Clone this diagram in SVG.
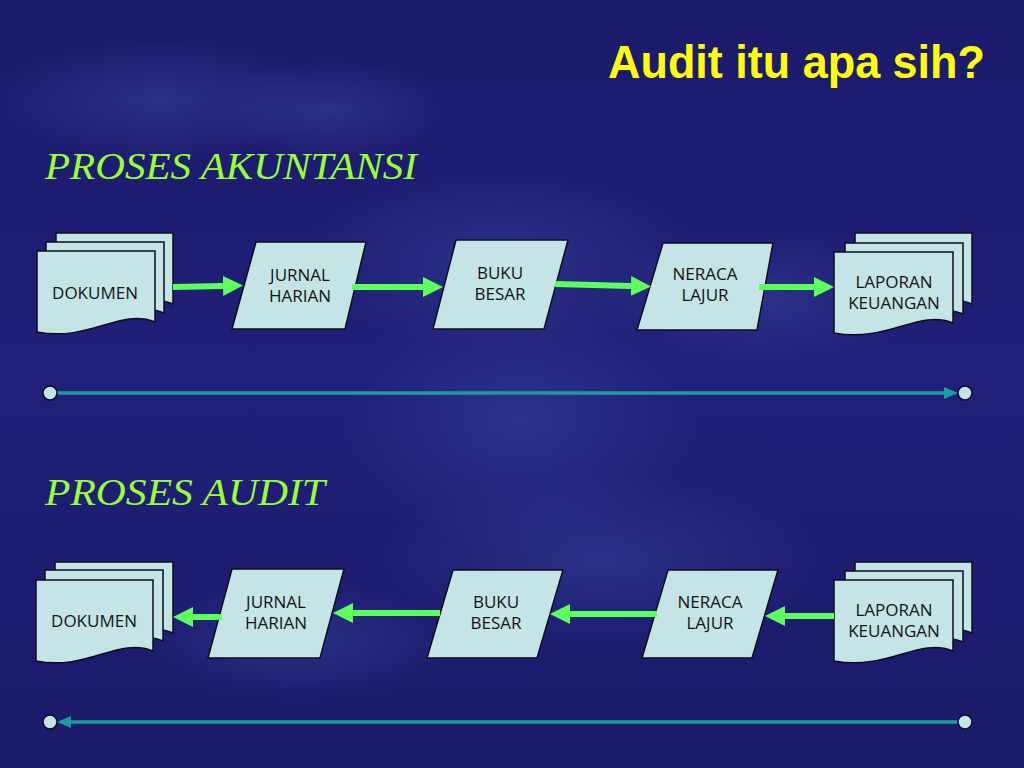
<svg xmlns="http://www.w3.org/2000/svg" width="1024" height="768" viewBox="0 0 1024 768">
  <defs>
    <radialGradient id="blob" cx="50%" cy="50%" r="50%">
      <stop offset="0" stop-color="#3a4aa0" stop-opacity="0.45"/>
      <stop offset="1" stop-color="#3a4aa0" stop-opacity="0"/>
    </radialGradient>
    <linearGradient id="bg" x1="0" y1="0" x2="0" y2="1">
      <stop offset="0" stop-color="#1c1a6c"/>
      <stop offset="0.5" stop-color="#211f78"/>
      <stop offset="1" stop-color="#1b1a6a"/>
    </linearGradient>
    <marker id="ga" markerUnits="userSpaceOnUse" markerWidth="20" markerHeight="20" refX="0" refY="10" orient="auto">
      <path d="M0,0 L20,10 L0,20 Z" fill="#5cff5c"/>
    </marker>
    <marker id="ta" markerUnits="userSpaceOnUse" markerWidth="14" markerHeight="12" refX="0" refY="6" orient="auto">
      <path d="M0,0 L14,6 L0,12 Z" fill="#1a9e9e"/>
    </marker>
    <style>
      .sheet { fill: #c4e4e6; stroke: #0d0d1e; stroke-width: 1.5; }
      .para { fill: #c4e4e6; stroke: #0d0d1e; stroke-width: 1.5; }
      .lbl { font-family: "Open Sans", "Liberation Sans", sans-serif; font-size: 17px; fill: #141414; text-anchor: middle; }
      .sec { font-family: "Liberation Serif", "DejaVu Serif", serif; font-style: italic; font-size: 38px; fill: #99ff33; }
      .garrow { stroke: #5cff5c; stroke-width: 6; fill: none; marker-end: url(#ga); }
      .tline { stroke: #1a9e9e; stroke-width: 3.5; fill: none; marker-end: url(#ta); }
      .dot { fill: #c4e4e6; stroke: #0a0a30; stroke-width: 1.5; }
    </style>
  </defs>

  <rect x="0" y="0" width="1024" height="768" fill="url(#bg)"/>
  <g id="texture">
    <ellipse cx="160" cy="100" rx="170" ry="60" fill="url(#blob)"/>
    <ellipse cx="330" cy="110" rx="120" ry="50" fill="url(#blob)"/>
    <ellipse cx="500" cy="260" rx="200" ry="90" fill="url(#blob)"/>
    <ellipse cx="520" cy="420" rx="180" ry="130" fill="url(#blob)"/>
    <ellipse cx="600" cy="560" rx="220" ry="90" fill="url(#blob)"/>
    <ellipse cx="760" cy="300" rx="160" ry="70" fill="url(#blob)"/>
    <ellipse cx="300" cy="640" rx="160" ry="60" fill="url(#blob)"/>
  </g>

  <text id="title" x="985" y="78" font-family="Liberation Sans, Arial, sans-serif" font-weight="bold" font-size="46" fill="#ffff00" text-anchor="end" textLength="377" lengthAdjust="spacingAndGlyphs">Audit itu apa sih?</text>
  <text id="sec1" class="sec" x="45" y="179" textLength="372" lengthAdjust="spacingAndGlyphs">PROSES AKUNTANSI</text>
  <text id="sec2" class="sec" x="45" y="505" textLength="280" lengthAdjust="spacingAndGlyphs">PROSES AUDIT</text>

  <!-- Top row -->
  <g id="dok1">
    <path class="sheet" d="M56,233 H173 V304 C138,290 108,324 56,314 Z"/>
    <path class="sheet" d="M46,242 H164 V313 C129,299 99,333 46,323 Z"/>
    <path class="sheet" d="M37,251 H155 V322 C120,308 90,342 37,332 Z"/>
    <text class="lbl" x="95" y="299">DOKUMEN</text>
  </g>
  <g id="jurnal1">
    <polygon class="para" points="256,242 366,242 345,329 232,329"/>
    <text class="lbl" x="300" y="281">JURNAL</text>
    <text class="lbl" x="300" y="302">HARIAN</text>
  </g>
  <g id="buku1">
    <polygon class="para" points="456,240 568,240 544,329 433,329"/>
    <text class="lbl" x="500" y="279">BUKU</text>
    <text class="lbl" x="500" y="300">BESAR</text>
  </g>
  <g id="neraca1">
    <polygon class="para" points="663,243 773,243 757,330 637,330"/>
    <text class="lbl" x="705" y="280">NERACA</text>
    <text class="lbl" x="705" y="301">LAJUR</text>
  </g>
  <g id="laporan1">
    <path class="sheet" d="M855,233 H972 V304 C937,290 907,324 855,314 Z"/>
    <path class="sheet" d="M845,243 H963 V314 C928,300 898,334 845,324 Z"/>
    <path class="sheet" d="M834,252 H953 V323 C918,309 888,343 834,333 Z"/>
    <text class="lbl" x="894" y="288">LAPORAN</text>
    <text class="lbl" x="894" y="309">KEUANGAN</text>
  </g>

  <!-- Bottom row -->
  <g id="dok2">
    <path class="sheet" d="M55,562 H173 V633 C138,619 108,653 55,643 Z"/>
    <path class="sheet" d="M45,570 H163 V641 C128,627 98,661 45,651 Z"/>
    <path class="sheet" d="M36,580 H153 V651 C118,637 88,671 36,661 Z"/>
    <text class="lbl" x="94" y="627">DOKUMEN</text>
  </g>
  <g id="jurnal2">
    <polygon class="para" points="232,569 344,569 320,658 208,658"/>
    <text class="lbl" x="276" y="608">JURNAL</text>
    <text class="lbl" x="276" y="629">HARIAN</text>
  </g>
  <g id="buku2">
    <polygon class="para" points="453,570 563,570 537,658 427,658"/>
    <text class="lbl" x="496" y="608">BUKU</text>
    <text class="lbl" x="496" y="629">BESAR</text>
  </g>
  <g id="neraca2">
    <polygon class="para" points="668,570 778,570 752,658 642,658"/>
    <text class="lbl" x="710" y="608">NERACA</text>
    <text class="lbl" x="710" y="629">LAJUR</text>
  </g>
  <g id="laporan2">
    <path class="sheet" d="M855,562 H972 V633 C937,619 907,653 855,643 Z"/>
    <path class="sheet" d="M845,571 H963 V642 C928,628 898,662 845,652 Z"/>
    <path class="sheet" d="M834,580 H953 V651 C918,637 888,671 834,661 Z"/>
    <text class="lbl" x="894" y="616">LAPORAN</text>
    <text class="lbl" x="894" y="637">KEUANGAN</text>
  </g>

  <g id="connectors">
    <line class="garrow" x1="173" y1="287" x2="223" y2="286"/>
    <line class="garrow" x1="352" y1="287" x2="423" y2="287"/>
    <line class="garrow" x1="555" y1="284" x2="631" y2="286"/>
    <line class="garrow" x1="759" y1="287" x2="814" y2="287"/>

    <line class="garrow" x1="222" y1="617" x2="193" y2="617"/>
    <line class="garrow" x1="440" y1="613" x2="353" y2="613"/>
    <line class="garrow" x1="657" y1="614" x2="570" y2="614"/>
    <line class="garrow" x1="834" y1="616" x2="785" y2="616"/>

    <line class="tline" x1="57" y1="393" x2="944" y2="393"/>
    <line class="tline" x1="958" y1="722" x2="71" y2="722"/>
  </g>
  <g id="timeline-dots">
    <circle class="dot" cx="50" cy="393" r="7"/>
    <circle class="dot" cx="965" cy="393" r="7"/>
    <circle class="dot" cx="50" cy="722" r="7"/>
    <circle class="dot" cx="965" cy="722" r="7"/>
  </g>
</svg>
